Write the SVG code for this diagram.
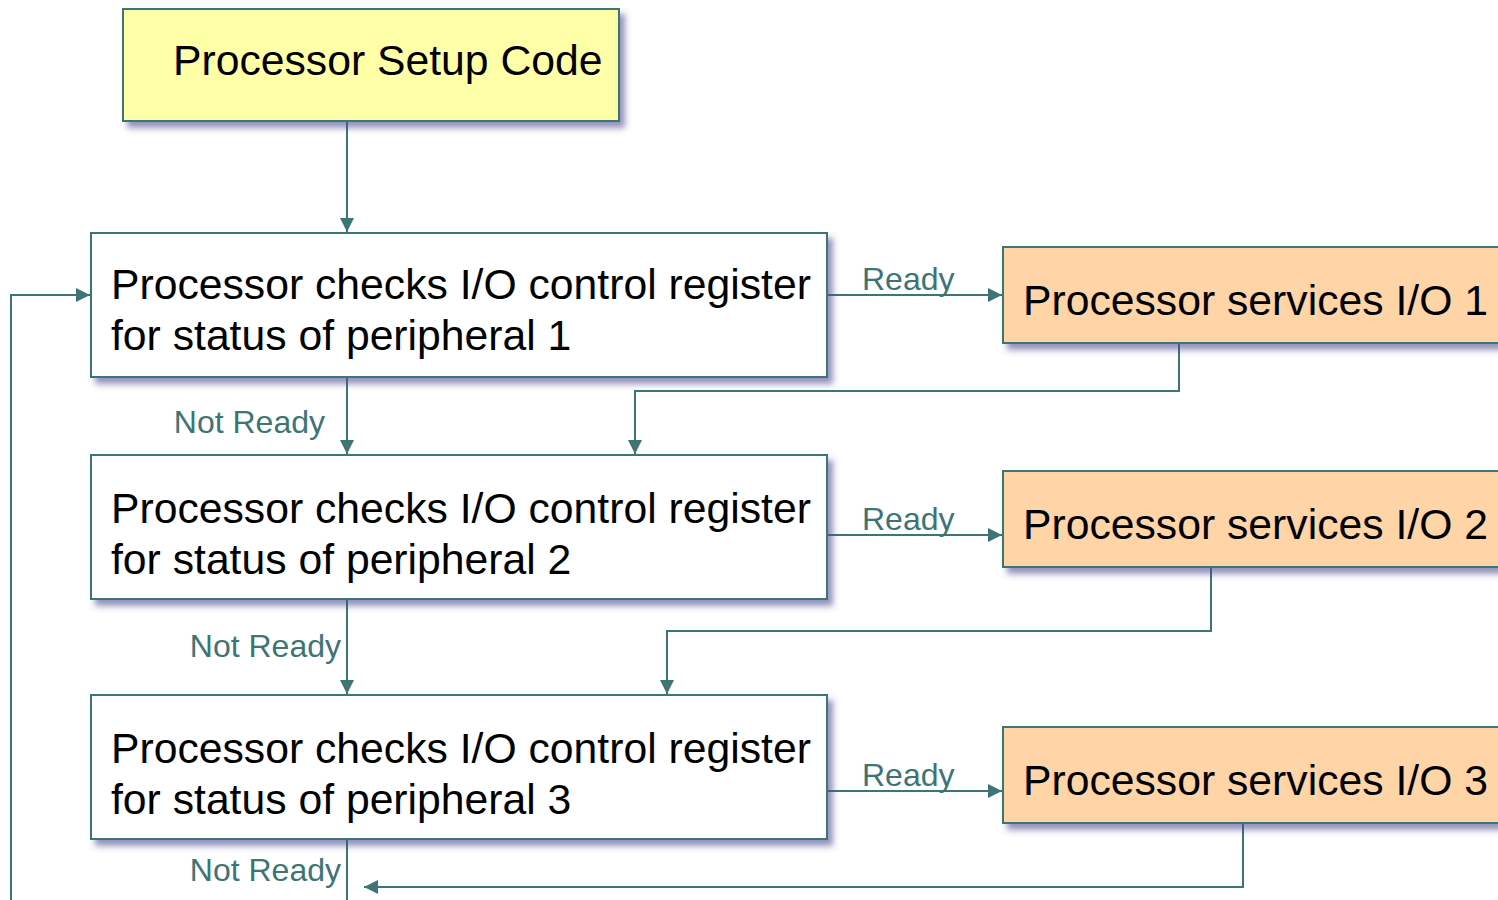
<svg xmlns="http://www.w3.org/2000/svg" width="1498" height="900" viewBox="0 0 1498 900">
<defs>
<filter id="sh" x="-5%" y="-10%" width="115%" height="140%">
<feGaussianBlur in="SourceAlpha" stdDeviation="3"/>
<feOffset dx="5" dy="6" result="b"/>
<feFlood flood-color="#4a4a90" flood-opacity="0.6"/>
<feComposite in2="b" operator="in" result="s"/>
<feMerge><feMergeNode in="s"/><feMergeNode in="SourceGraphic"/></feMerge>
</filter>
<marker id="ah" viewBox="0 0 14 14" refX="14" refY="7" markerWidth="14" markerHeight="14" markerUnits="userSpaceOnUse" orient="auto">
<path d="M0,0 L14,7 L0,14 Z" fill="#3d7474"/>
</marker>
<style>
.box{stroke:#3d7474;stroke-width:2}
.w{fill:#ffffff}
.y{fill:#ffffa8}
.o{fill:#ffd5a8}
.t{font-family:"Liberation Sans",Arial,sans-serif;font-size:42.7px;fill:#000}
.l{font-family:"Liberation Sans",Arial,sans-serif;font-size:32px;fill:#3d7474}
.c{fill:none;stroke:#3d7474;stroke-width:2}
</style>
</defs>
<rect width="1498" height="900" fill="#fff"/>
<g id="connectors">
<path class="c" d="M347,121 V232" marker-end="url(#ah)"/>
<path class="c" d="M827,295 H1002" marker-end="url(#ah)"/>
<path class="c" d="M347,377 V454" marker-end="url(#ah)"/>
<path class="c" d="M1179,343 V391 H635 V454" marker-end="url(#ah)"/>
<path class="c" d="M827,535 H1002" marker-end="url(#ah)"/>
<path class="c" d="M347,599 V694" marker-end="url(#ah)"/>
<path class="c" d="M1211,567 V631 H667 V694" marker-end="url(#ah)"/>
<path class="c" d="M827,791 H1002" marker-end="url(#ah)"/>
<path class="c" d="M347,839 V900"/>
<path class="c" d="M1243,823 V887 H364" marker-end="url(#ah)"/>
<path class="c" d="M11,900 V295 H90" marker-end="url(#ah)"/>
<text class="l" x="862" y="290">Ready</text>
<text class="l" x="862" y="530">Ready</text>
<text class="l" x="862" y="786">Ready</text>
<text class="l" x="325" y="433" text-anchor="end">Not Ready</text>
<text class="l" x="341" y="657" text-anchor="end">Not Ready</text>
<text class="l" x="341" y="881" text-anchor="end">Not Ready</text>
</g>
<g id="setup">
<rect class="box y" x="123" y="9" width="496" height="112" filter="url(#sh)"/>
<text class="t" x="173" y="75">Processor Setup Code</text>
</g>
<g id="check1">
<rect class="box w" x="91" y="233" width="736" height="144" filter="url(#sh)"/>
<text class="t" x="111" y="299">Processor checks I/O control register</text>
<text class="t" x="111" y="350">for status of peripheral 1</text>
</g>
<g id="check2">
<rect class="box w" x="91" y="455" width="736" height="144" filter="url(#sh)"/>
<text class="t" x="111" y="523">Processor checks I/O control register</text>
<text class="t" x="111" y="574">for status of peripheral 2</text>
</g>
<g id="check3">
<rect class="box w" x="91" y="695" width="736" height="144" filter="url(#sh)"/>
<text class="t" x="111" y="763">Processor checks I/O control register</text>
<text class="t" x="111" y="814">for status of peripheral 3</text>
</g>
<g id="service1">
<rect class="box o" x="1003" y="247" width="520" height="96" filter="url(#sh)"/>
<text class="t" x="1023" y="315">Processor services I/O 1</text>
</g>
<g id="service2">
<rect class="box o" x="1003" y="471" width="520" height="96" filter="url(#sh)"/>
<text class="t" x="1023" y="539">Processor services I/O 2</text>
</g>
<g id="service3">
<rect class="box o" x="1003" y="727" width="520" height="96" filter="url(#sh)"/>
<text class="t" x="1023" y="795">Processor services I/O 3</text>
</g>
</svg>
